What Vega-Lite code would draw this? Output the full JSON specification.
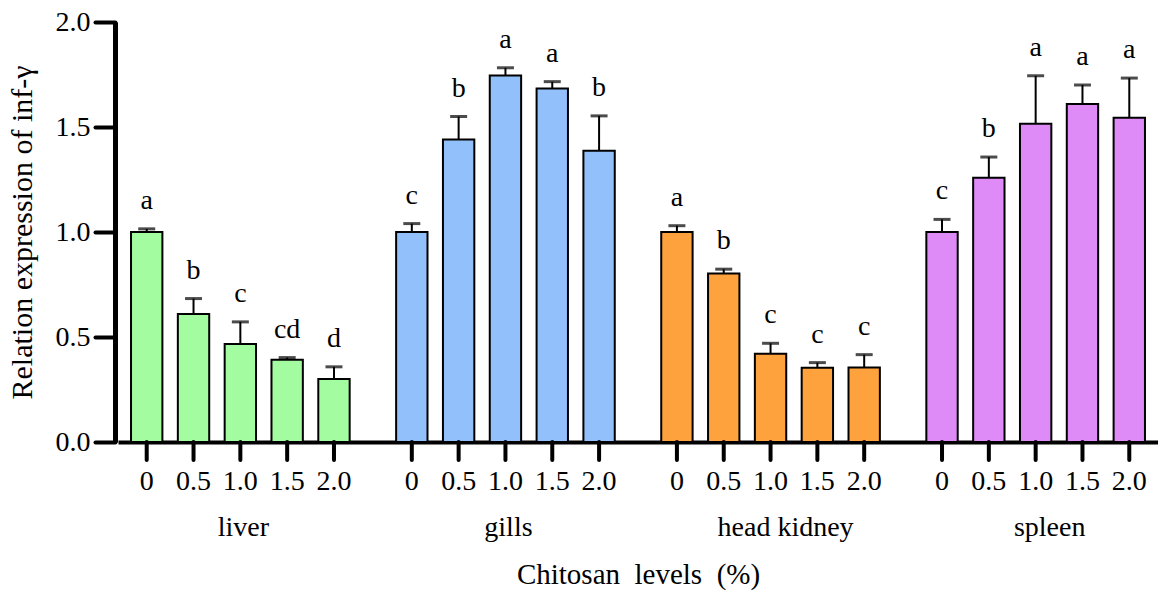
{
  "$schema": "https://vega.github.io/schema/vega-lite/v6.json",
  "width": 1040,
  "height": 420,
  "autosize": "none",
  "padding": {"left": 118, "top": 22, "right": 0, "bottom": 161},
  "background": "white",
  "config": {
    "font": "Liberation Serif",
    "view": {"stroke": null},
    "axis": {"labelFont": "Liberation Serif", "titleFont": "Liberation Serif"},
    "text": {"font": "Liberation Serif"}
  },
  "data": {
    "values": [
      {"organ": "liver", "level": "0", "mean": 1.0, "upper": 1.015, "sig": "a"},
      {"organ": "liver", "level": "0.5", "mean": 0.61, "upper": 0.683, "sig": "b"},
      {"organ": "liver", "level": "1.0", "mean": 0.467, "upper": 0.572, "sig": "c"},
      {"organ": "liver", "level": "1.5", "mean": 0.392, "upper": 0.402, "sig": "cd"},
      {"organ": "liver", "level": "2.0", "mean": 0.3, "upper": 0.358, "sig": "d"},
      {"organ": "gills", "level": "0", "mean": 1.0, "upper": 1.04, "sig": "c"},
      {"organ": "gills", "level": "0.5", "mean": 1.44, "upper": 1.55, "sig": "b"},
      {"organ": "gills", "level": "1.0", "mean": 1.745, "upper": 1.782, "sig": "a"},
      {"organ": "gills", "level": "1.5", "mean": 1.683, "upper": 1.716, "sig": "a"},
      {"organ": "gills", "level": "2.0", "mean": 1.387, "upper": 1.553, "sig": "b"},
      {"organ": "head kidney", "level": "0", "mean": 1.0, "upper": 1.03, "sig": "a"},
      {"organ": "head kidney", "level": "0.5", "mean": 0.802, "upper": 0.823, "sig": "b"},
      {"organ": "head kidney", "level": "1.0", "mean": 0.42, "upper": 0.47, "sig": "c"},
      {"organ": "head kidney", "level": "1.5", "mean": 0.353, "upper": 0.378, "sig": "c"},
      {"organ": "head kidney", "level": "2.0", "mean": 0.355, "upper": 0.416, "sig": "c"},
      {"organ": "spleen", "level": "0", "mean": 1.0, "upper": 1.06, "sig": "c"},
      {"organ": "spleen", "level": "0.5", "mean": 1.258, "upper": 1.357, "sig": "b"},
      {"organ": "spleen", "level": "1.0", "mean": 1.515, "upper": 1.744, "sig": "a"},
      {"organ": "spleen", "level": "1.5", "mean": 1.609, "upper": 1.70, "sig": "a"},
      {"organ": "spleen", "level": "2.0", "mean": 1.544, "upper": 1.733, "sig": "a"}
    ]
  },
  "encoding": {
    "x": {
      "field": "organ",
      "type": "nominal",
      "sort": ["liver", "gills", "head kidney", "spleen"],
      "scale": {"paddingInner": 0.117, "paddingOuter": 0.02},
      "axis": {
        "ticks": false,
        "domainWidth": 4,
        "domainColor": "black",
        "labelAngle": 0,
        "labelFont": "Liberation Serif",
        "labelFontSize": 28,
        "labelColor": "black",
        "labelPadding": 71,
        "labelOffset": {"expr": "datum.value === 'head kidney' ? 15 : datum.value === 'spleen' ? 14 : 3"},
        "title": "Chitosan\u00a0 levels\u00a0 (%)",
        "titleFont": "Liberation Serif",
        "titleFontSize": 29,
        "titleFontWeight": "normal",
        "titleColor": "black",
        "titlePadding": 19
      }
    },
    "xOffset": {
      "field": "level",
      "type": "nominal",
      "sort": ["0", "0.5", "1.0", "1.5", "2.0"],
      "scale": {"paddingInner": 0.33, "paddingOuter": 0.165}
    }
  },
  "layer": [
    {
      "mark": {"type": "bar", "stroke": "black", "strokeWidth": 2},
      "encoding": {
        "y": {
          "field": "mean",
          "type": "quantitative",
          "scale": {"domain": [0, 2], "nice": false, "zero": true},
          "axis": {
            "values": [0, 0.5, 1, 1.5, 2],
            "format": ".1f",
            "grid": false,
            "offset": 3,
            "tickSize": 20,
            "tickWidth": 4,
            "tickColor": "black",
            "tickCap": "round",
            "domainWidth": 5,
            "domainColor": "black",
            "labelFont": "Liberation Serif",
            "labelFontSize": 28,
            "labelColor": "black",
            "labelPadding": 5,
            "title": "Relation expression of inf-γ",
            "titleFont": "Liberation Serif",
            "titleFontSize": 30,
            "titleFontWeight": "normal",
            "titleColor": "black",
            "titlePadding": 18
          }
        },
        "color": {
          "field": "organ",
          "type": "nominal",
          "scale": {"domain": ["liver", "gills", "head kidney", "spleen"], "range": ["#a4fca0", "#92c0fa", "#fea23e", "#de8af7"]},
          "legend": null
        }
      }
    },
    {
      "mark": {"type": "rule", "color": "black", "strokeWidth": 2},
      "encoding": {
        "y": {"field": "mean", "type": "quantitative"},
        "y2": {"field": "upper"}
      }
    },
    {
      "mark": {"type": "tick", "color": "black", "size": 17, "thickness": 3},
      "encoding": {
        "y": {"field": "upper", "type": "quantitative"}
      }
    },
    {
      "mark": {"type": "text", "font": "Liberation Serif", "fontSize": 28, "color": "black", "baseline": "alphabetic", "dy": -20},
      "encoding": {
        "y": {"field": "upper", "type": "quantitative"},
        "text": {"field": "sig"}
      }
    },
    {
      "mark": {"type": "text", "font": "Liberation Serif", "fontSize": 28, "color": "black", "baseline": "alphabetic", "dy": 48},
      "encoding": {
        "y": {"datum": 0},
        "text": {"field": "level"}
      }
    },
    {
      "mark": {"type": "rule", "color": "black", "strokeWidth": 4, "strokeCap": "round"},
      "encoding": {
        "y": {"datum": 0},
        "y2": {"datum": -0.086}
      }
    }
  ]
}
